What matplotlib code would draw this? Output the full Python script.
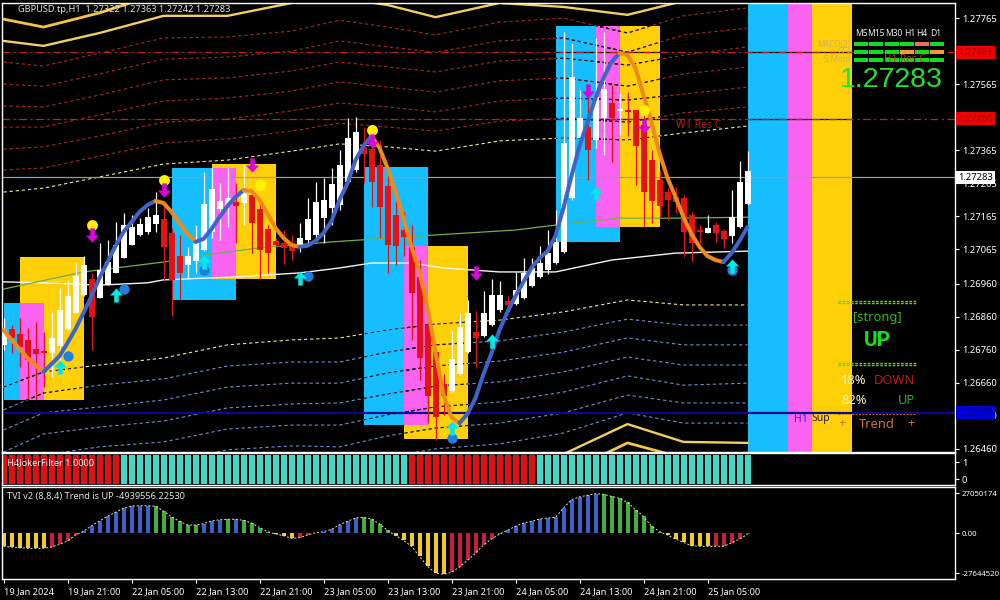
import numpy as np
import matplotlib
matplotlib.use("Agg")
import matplotlib.pyplot as plt
from matplotlib.patches import Rectangle
from matplotlib.path import Path

plt.rcParams['font.family'] = ['Noto Sans', 'DejaVu Sans']

# prices are kept in points (1.27283 -> 127283)
opens = [126775,126823,126808,126790,126763,126756,126750,126772,126823,126872,126926,126975,126917,126956,126993,127038,
         127078,127108,127117,127141,127156,127114,127044,127017,127029,127062,127117,127187,127196,127208,127205,127229,
         127187,127126,127090,127084,127078,127078,127093,127108,127159,127190,127199,127268,127305,127375,127368,127320,
         127256,127169,127123,127072,126981,126835,126753,126656,126635,126687,126753,126814,126802,126835,126881,126908,
         126899,126917,126953,126981,127002,127023,127056,127220,127402,127435,127396,127462,127508,127484,127487,127487,
         127441,127335,127275,127238,127223,127220,127169,127123,127114,127138,127120,127105,127132,127202]
closes = [126820,126796,126769,126729,126747,126750,126796,126881,126923,126984,127017,126859,127002,127026,127078,127138,
          127132,127141,127162,127169,127072,126972,126993,127044,127084,127202,127247,127211,127220,127196,127232,127144,
          127062,127053,127078,127069,127059,127099,127156,127208,127214,127262,127320,127402,127420,127353,127268,127193,
          127078,127075,127102,126932,126735,126620,126556,126620,126732,126829,126872,126796,126872,126926,126926,126896,
          126941,126993,127008,127023,127053,127087,127387,127587,127462,127365,127526,127550,127462,127490,127481,127378,
          127238,127211,127196,127214,127208,127117,127084,127117,127129,127114,127096,127162,127268,127302]
highs = [126856,126835,126856,126826,126844,126814,126875,126947,126972,127023,127044,126993,127084,127093,127147,127175,
         127169,127159,127190,127238,127199,127129,127108,127072,127138,127299,127311,127265,127311,127265,127320,127244,
         127214,127138,127099,127123,127108,127144,127220,127268,127281,127311,127365,127462,127465,127435,127420,127396,
         127305,127214,127178,127138,127032,126881,126759,126687,126817,126872,126911,126878,126938,126975,126969,126923,
         126996,127038,127038,127075,127123,127184,127723,127690,127547,127556,127705,127723,127562,127538,127541,127487,
         127472,127365,127305,127250,127253,127229,127178,127138,127169,127147,127126,127244,127332,127362]
lows = [126759,126750,126708,126614,126608,126647,126678,126714,126820,126872,126923,126759,126917,126956,126993,127038,
        127078,127105,127111,127117,126972,126862,126911,126975,126993,127059,127099,127093,127132,127084,127138,127053,
        126975,126993,127072,127020,127032,127056,127084,127093,127084,127138,127184,127262,127299,127265,127193,127099,
        126993,127017,127044,126790,126669,126538,126487,126563,126632,126684,126750,126705,126799,126832,126875,126875,
        126896,126914,126950,126978,126990,127020,127053,127214,127396,127275,127372,127350,127329,127411,127408,127259,
        127132,127144,127162,127153,127175,127041,127029,127084,127114,127087,127069,127084,127129,127199]

# trend line, blue while rising and orange while falling
trend_line = [126820,126790,126763,126735,126714,126693,126717,126741,126781,126823,126872,126923,126978,127026,127075,127117,
              127147,127178,127199,127211,127205,127178,127144,127111,127087,127096,127126,127162,127196,127223,127244,127241,
              127214,127172,127129,127099,127078,127072,127075,127090,127114,127150,127214,127265,127335,127378,127408,127372,
              127311,127238,127159,127072,126996,126887,126753,126623,126556,126538,126566,126614,126687,126750,126820,126875,
              126923,126966,127008,127038,127059,127105,127190,127287,127378,127450,127523,127584,127632,127659,127653,127614,
              127532,127450,127356,127281,127223,127162,127111,127072,127044,127032,127026,127053,127090,127132]

# envelope bands, read at these bars
band_bars = [0, 5, 12, 20, 28, 36, 42, 48, 54, 62, 70, 78, 85, 93]
band_top1 = [127762,127738,127781,127844,127835,127872,127887,127872,127829,127872,127856,127835,127865,127911]
band_top2 = [127696,127681,127720,127772,127772,127811,127826,127805,127768,127811,127799,127775,127817,127850]
band_red6 = [127632,127620,127659,127705,127708,127726,127759,127738,127714,127753,127765,127720,127772,127796]
band_red5 = [127565,127559,127596,127641,127647,127665,127696,127678,127662,127696,127705,127662,127714,127735]
band_red4 = [127499,127496,127532,127578,127584,127605,127632,127617,127602,127635,127644,127623,127653,127678]
band_red3 = [127435,127435,127472,127514,127523,127544,127572,127556,127541,127575,127584,127559,127596,127617]
band_red2 = [127368,127375,127408,127450,127459,127484,127508,127496,127481,127514,127523,127517,127535,127556]
band_red1 = [127305,127311,127347,127387,127399,127423,127447,127435,127423,127453,127462,127450,127478,127496]
band_up = [127238,127250,127284,127323,127335,127362,127384,127375,127362,127393,127402,127396,127417,127438]
band_dn = [126647,126693,126714,126735,126775,126790,126796,126820,126838,126850,126875,126911,126896,126896]
band_blue1 = [126578,126629,126653,126672,126711,126723,126723,126753,126775,126787,126814,126853,126835,126835]
band_blue2 = [126517,126569,126587,126608,126647,126659,126659,126690,126711,126726,126753,126796,126775,126775]
band_blue3 = [126450,126505,126526,126544,126584,126596,126599,126626,126650,126663,126693,126738,126714,126714]
band_blue4 = [126384,126441,126466,126481,126520,126532,126532,126563,126587,126602,126632,126681,126653,126659]
band_blue5 = [126317,126378,126405,126417,126457,126469,126466,126499,126523,126538,126569,126623,126599,126599]
band_blue6 = [126250,126314,126344,126353,126393,126405,126399,126435,126460,126475,126508,126569,126538,126538]
band_low1 = [126184,126250,126281,126290,126329,126341,126335,126372,126396,126411,126444,126535,126481,126478]
band_low2 = [126123,126190,126220,126229,126269,126281,126275,126311,126335,126350,126384,126478,126432,126447]

white_bars = [0, 5, 12, 18, 20, 29, 37, 42, 46, 51, 55, 62, 69, 76, 84, 93]
white_ma = [126966,126963,126956,126963,126972,126981,126993,127008,127023,127023,127008,126996,126996,127032,127053,127059]
green_bars = [0, 10, 20, 26, 32, 41, 54, 64, 69, 77, 85, 93]
green_ma = [126944,126996,127026,127050,127069,127087,127108,127123,127138,127159,127159,127162]

# zones: first bar, last bar, top, bottom
cyan_zones = [(0, 5, 126902, 126608), (21, 29, 127311, 126911), (45, 53, 127314, 126532),
              (69, 77, 127741, 127087), (93, 98, 127811, 126450)]
yellow_zones = [(2, 10, 127041, 126608), (26, 34, 127323, 126975), (50, 58, 127075, 126490),
                (74, 82, 127741, 127132), (101, 106, 127811, 126450)]
pink_zones = [(2, 5, 126902, 126608), (26, 29, 127311, 126978), (50, 53, 127075, 126532),
              (74, 77, 127741, 127132), (98, 101, 127811, 126450)]

level_red = [127661, 127460]
level_blue = 126570
last_price = 127283

dot_yellow_bars, dot_yellow_vals = [11, 20, 32, 46, 80], [127138, 127275, 127259, 127426, 127487]
arrow_dn_bars, arrow_dn_vals = [11, 20, 31, 46, 59, 73, 80], [127108, 127244, 127320, 127393, 126993, 127544, 127438]
arrow_up_bars, arrow_up_vals = [7, 14, 25, 37, 56, 61, 74, 91], [126708, 126926, 127026, 126978, 126523, 126787, 127235, 127014]
dot_blue_bars, dot_blue_vals = [8, 15, 25, 38, 56, 91], [126741, 126944, 127002, 126984, 126493, 127002]

price_ticks = [127765, 127565, 127365, 127265, 127165, 127065, 126960, 126860, 126760, 126660, 126560, 126460]

# joker filter state per bar: 0 red, 1 turquoise
joker_state = [0] * 15 + [1] * 36 + [0] * 16 + [1] * 27

# TVI histogram in millions
tvi = [-9.1,-9.6,-10.0,-10.5,-10.5,-10.5,-9.6,-7.8,-5.5,-1.4,1.1,5.0,8.2,11.4,14.2,16.9,18.5,18.7,18.7,18.3,15.1,11.0,8.0,5.5,
       5.5,6.4,8.2,9.1,9.4,9.4,8.7,6.8,3.7,0.9,-0.7,-1.8,-3.7,-3.2,-1.4,0.2,0.9,2.5,5.7,8.0,10.3,10.7,9.6,6.2,1.8,-1.8,
       -5.0,-9.1,-16.0,-22.8,-27.4,-28.3,-26.9,-23.3,-18.7,-13.7,-8.2,-4.1,-0.7,1.8,4.6,6.8,8.0,9.6,10.3,10.7,17.1,22.8,
       24.7,25.8,26.9,26.5,25.1,23.7,21.0,16.0,11.4,4.6,0.9,-1.4,-4.1,-6.4,-8.7,-9.1,-9.1,-9.1,-9.1,-6.8,-4.1,-0.9]
tvi_state = "yyyyyyrrrrbbbbbbbbbggggggbbbgbggggyyyrrbbbbbbggggyyyyyyyrrrrrrrbbbbbbbbbbbbggggggggyyyyyyrrrrr"

tick_bars = [0, 8, 16, 24, 32, 40, 48, 56, 64, 72, 80, 88]
tick_labels = ['19 Jan 2024', '19 Jan 21:00', '22 Jan 05:00', '22 Jan 13:00', '22 Jan 21:00', '23 Jan 05:00',
               '23 Jan 13:00', '23 Jan 21:00', '24 Jan 05:00', '24 Jan 13:00', '24 Jan 21:00', '25 Jan 05:00']

W, H = 1000, 600
BAR_PX = 8.0
X0 = 3.5
xlim = ((2 - X0) / BAR_PX, (955 - X0) / BAR_PX)

CYAN, PINK, GOLD = '#14BEFF', '#FB62F0', '#FFD008'
RED, WHITE = '#E81010', '#FFFFFF'
BLUE, ORANGE = '#3F63C8', '#EE8A1A'


def panel(top, bottom):
    ax = fig.add_axes([2 / W, 1 - bottom / H, 953 / W, (bottom - top) / H], facecolor='black')
    ax.set_xlim(*xlim)
    ax.set_xticks([])
    ax.yaxis.tick_right()
    ax.tick_params(axis='y', colors='white', length=3, width=0.8, pad=2, labelsize=6.8)
    ax.tick_params(axis='x', colors='white', length=3, width=0.8, pad=3, labelsize=6.6)
    for s in ax.spines.values():
        s.set_color('white')
        s.set_linewidth(1.0)
    return ax


def label(x, y, s, color='white', size=6.9, ha='left', **kw):
    # overlay text placed in pixels of the picture
    fig.text(x / W, 1 - y / H, s, color=color, fontsize=size, ha=ha, va='center', **kw)


def p(values):
    return np.array(values, dtype=float) / 1e5


fig = plt.figure(figsize=(10, 6), dpi=100, facecolor='black')

ax = panel(3, 452)
ax.set_ylim(1.264504, 1.278109)
ax.set_yticks(p(price_ticks), ['%.5f' % v for v in p(price_ticks)])

# zones
zone_rects = []
for zones, col in ((cyan_zones, CYAN), (yellow_zones, GOLD), (pink_zones, PINK)):
    for a, b, top, bot in zones:
        r = Rectangle((a, bot / 1e5), b - a, (top - bot) / 1e5, fc=col, ec='none', zorder=1)
        ax.add_patch(r)
        if a < 90:
            zone_rects.append(r)

# envelope bands, they turn black where they cross a zone
dash = (0, (3, 2.5))
bands = [(band_red6, '#A82828'), (band_red5, '#A82828'), (band_red4, '#A82828'), (band_red3, '#A82828'),
         (band_red2, '#A82828'), (band_red1, '#A82828'), (band_up, '#F0E68C'), (band_dn, '#F0E68C'),
         (band_blue1, '#6E8FD0'), (band_blue2, '#6E8FD0'), (band_blue3, '#6E8FD0'), (band_blue4, '#6E8FD0'),
         (band_blue5, '#6E8FD0'), (band_blue6, '#6E8FD0')]
for vals, col in bands:
    ax.plot(band_bars, p(vals), color=col, lw=0.8, ls=dash, zorder=2)
    for r in zone_rects:
        ln, = ax.plot(band_bars, p(vals), color='#111111', lw=0.8, ls=dash, zorder=2.1)
        ln.set_clip_path(r)

for vals in (band_top1, band_low2):
    ax.plot(band_bars, p(vals), color='#F5C542', lw=2.0, zorder=2)
for vals in (band_top2, band_low1):
    ax.plot(band_bars, p(vals), color='#F3CE62', lw=1.7, zorder=2)

ax.plot(white_bars, p(white_ma), color='#F4F4F4', lw=1.0, zorder=2.2)
ax.plot(green_bars, p(green_ma), color='#6FB04A', lw=0.9, zorder=2.2)

# horizontal levels
for lv in level_red:
    ax.axhline(lv / 1e5, color='#111111', lw=0.9, zorder=2.3, xmax=(851.5 - 2) / 953)
    ax.axhline(lv / 1e5, color='#C02020', lw=0.9, ls=(0, (6, 3, 1.5, 3)), zorder=2.4)
ax.axhline(last_price / 1e5, color='#9A9A9A', lw=0.9, zorder=2.4)
ax.axhline(level_blue / 1e5, color='#0A0A90', lw=1.6, zorder=2.4)

# candles
x = np.arange(len(opens))
o, c, h, l = p(opens), p(closes), p(highs), p(lows)
up = c >= o
candle_cols = np.where(up, WHITE, RED)
ax.vlines(x, l, h, colors=candle_cols, lw=0.9, zorder=3)
ax.bar(x, np.abs(c - o), bottom=np.minimum(o, c), width=6 / BAR_PX, color=candle_cols, lw=0, zorder=3.1)

# trend line split where its direction changes
vals = p(trend_line)
rising = np.diff(vals) > 0
start = 0
for i in range(1, len(rising) + 1):
    if i == len(rising) or rising[i] != rising[start]:
        ax.plot(x[start:i + 1], vals[start:i + 1], color=BLUE if rising[start] else ORANGE, lw=2.9,
                solid_capstyle='round', zorder=4)
        start = i

# signals
arrow_up = Path([(-0.16, -0.5), (0.16, -0.5), (0.16, 0.0), (0.46, 0.0), (0, 0.5), (-0.46, 0.0), (-0.16, 0.0), (-0.16, -0.5)], closed=True)
arrow_dn = Path([(-0.16, 0.5), (0.16, 0.5), (0.16, 0.0), (0.46, 0.0), (0, -0.5), (-0.46, 0.0), (-0.16, 0.0), (-0.16, 0.5)], closed=True)
ax.scatter(dot_blue_bars, p(dot_blue_vals), s=55, color='#2080E0', lw=0, zorder=5)
ax.scatter(dot_yellow_bars, p(dot_yellow_vals), s=62, color='#FFF000', lw=0, zorder=5)
ax.scatter(arrow_dn_bars, p(arrow_dn_vals), s=105, marker=arrow_dn, color='#E000E0', lw=0, zorder=5.1)
ax.scatter(arrow_up_bars, p(arrow_up_vals), s=105, marker=arrow_up, color='#00E8E8', lw=0, zorder=5.1)

# price flags on the axis
flag = ax.get_yaxis_transform()
for lv in level_red:
    ax.text(1.0032, lv / 1e5, '%.5f' % (lv / 1e5), transform=flag, color='#A80000', fontsize=6.8, va='center', zorder=6,
            clip_on=False, bbox=dict(boxstyle='square,pad=0.22', fc='#F00000', ec='none'))
ax.text(1.0032, last_price / 1e5, '%.5f' % (last_price / 1e5), transform=flag, color='black', fontsize=6.8, va='center',
        zorder=6, clip_on=False, bbox=dict(boxstyle='square,pad=0.22', fc='white', ec='none'))
ax.text(1.0032, level_blue / 1e5, '%.5f' % (level_blue / 1e5), transform=flag, color='#0000A0', fontsize=6.8, va='center',
        zorder=6, clip_on=False, bbox=dict(boxstyle='square,pad=0.22', fc='#0000D8', ec='none'))

# joker filter panel
ax2 = panel(453, 485)
ax2.set_ylim(-0.03, 1.07)
ax2.set_yticks([0.76, 0.17], ['1', '0'])
ax2.bar(x, np.ones(len(x)), width=6 / BAR_PX, color=['#40D8C8' if s else '#E01010' for s in joker_state], lw=0)

# TVI panel
ax3 = panel(487, 579)
ax3.set_ylim(-31.5, 31.5)
ax3.set_yticks([27.05, 0, -27.64], ['27050174', '0.00', '-27644520'])
ax3.tick_params(axis='y', labelsize=5.6, pad=1.5)
tvi_cols = {'y': '#F0C830', 'r': '#C82040', 'b': '#4060C8', 'g': '#40B040'}
ax3.bar(x, tvi, width=4 / BAR_PX, color=[tvi_cols[s] for s in tvi_state], lw=0)
ax3.plot(x, tvi, color='#F0E8A0', lw=0.7, ls=(0, (2, 2)))
ax3.set_xticks(tick_bars, tick_labels, ha='left')

# texts on the chart
label(18, 10, 'GBPUSD.tp,H1  1.27322 1.27363 1.27242 1.27283', color='#E4E4E4', size=6.6)
label(7, 463, 'H4JokerFilter 1.0000', color='#F0F0F0', size=6.6)
label(7, 496, 'TVI v2 (8,8,4) Trend is UP -4939556.22530', color='#E4E4E4', size=6.6)
label(676, 125, 'W1 Res C', color='#B02010', size=7.5)

# signal table
for name, cx in zip(['M5', 'M15', 'M30', 'H1', 'H4', 'D1'], [861, 876, 894, 910, 922, 936]):
    label(cx, 33, name, ha='center', size=6.1, color='#F0F0F0')
cell_left = [854, 869, 885, 900, 915, 930]
G, S, A = '#12DC22', '#E87060', '#F0A030'
cell_rows = [(44, [G, G, G, G, S, G]), (52, [G, G, G, A, G, A]), (60, [G, G, G, G, G, G])]
for cy, cols in cell_rows:
    for cl, col in zip(cell_left, cols):
        fig.add_artist(Rectangle((cl / W, 1 - (cy + 2) / H), 13.5 / W, 4 / H, fc=col, ec='none', transform=fig.transFigure))
label(850, 44, 'MACD(2)', color='#C8B060', size=5.8, ha='right')
label(850, 52, 'CCI', color='#C8B060', size=5.8, ha='right')
label(850, 60, 'S Mom', color='#C8B060', size=5.8, ha='right')
label(884, 60, 'H1 Res C', color='#A84812', size=7.2)
label(840, 80, '1.27283', color='#22E030', size=20.5, family=['Liberation Sans', 'DejaVu Sans'])

# trend box
for yy in (301, 303, 363, 365):
    fig.add_artist(plt.Line2D([838 / W, 916 / W], [1 - yy / H] * 2, color='#60D010', lw=1.0, ls=(0, (2, 1)),
                              transform=fig.transFigure))
fig.add_artist(plt.Line2D([838 / W, 916 / W], [1 - 414 / H] * 2, color='#C87020', lw=0.7, ls=(0, (2, 1.5)),
                          transform=fig.transFigure))
label(877, 318, '[strong]', color='#33BB11', size=9.3, ha='center')
label(877, 341, 'UP', color='#12E020', size=15, ha='center', fontweight='bold',
      family=['Roboto', 'DejaVu Sans'])
label(841, 380, '18%', color='#FFEFD5', size=9.3)
label(915, 380, 'DOWN', color='#C81818', size=9.3, ha='right')
label(841, 400, '82%', color='#FFEFD5', size=9.3)
label(915, 400, 'UP', color='#2FAF2F', size=9.3, ha='right')
label(842, 424, '+', color='#C87A20', size=9.3, ha='center')
label(877, 424, 'Trend', color='#C87A20', size=9.3, ha='center')
label(911, 424, '+', color='#C87A20', size=9.3, ha='center')
label(794, 419, 'H1', color='#5020D0', size=7.5)
label(811, 419, 'Sup', color='#302040', size=7.5)

fig.savefig('out.png', dpi=100, facecolor='black')
